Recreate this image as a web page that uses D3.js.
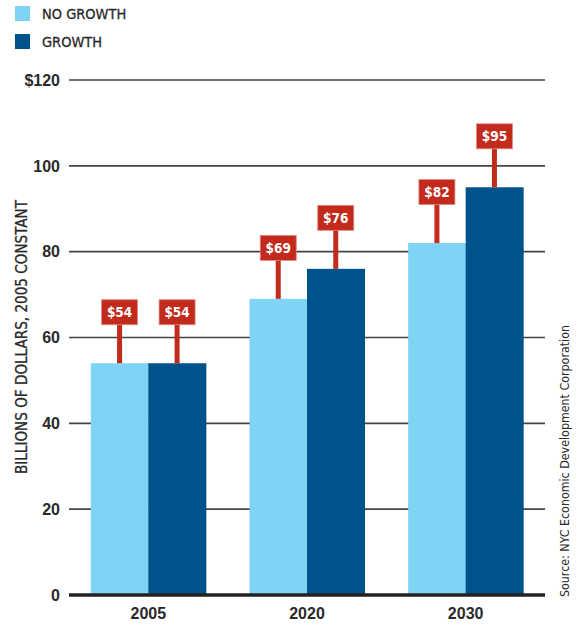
<!DOCTYPE html>
<html><head><meta charset="utf-8">
<script src="https://cdn.jsdelivr.net/npm/d3@7"></script>
<style>body{margin:0;background:#fff}svg{display:block}</style>
</head><body>
<script>
const years = ["2005", "2020", "2030"];
const seriesNames = ["NO GROWTH", "GROWTH"];
const noGrowth = [54, 69, 82];
const growth = [54, 76, 95];
const yTicks = [0, 20, 40, 60, 80, 100, 120];
const colors = ["#7fd3f4", "#00528a"];

const W = 582, H = 625;
const svg = d3.select("body").append("svg").attr("width", W).attr("height", H);
const x0 = d3.scaleBand().domain(years).range([69, 545]).paddingInner(0.275).paddingOuter(0.1375);
const x1 = d3.scaleBand().domain(seriesNames).range([0, x0.bandwidth()]);
const y = d3.scaleLinear().domain([0, 120]).range([595, 80]);
const condensed = "'DejaVu Sans Condensed','DejaVu Sans',sans-serif";
const bold = "'Liberation Sans',Arial,sans-serif";

// gridlines
svg.append("g").selectAll("line").data(yTicks.filter(d => d > 0)).join("line")
  .attr("x1", 69).attr("x2", 545).attr("y1", d => y(d)).attr("y2", d => y(d))
  .attr("stroke", "#444").attr("stroke-width", 1.6);

// y tick labels
svg.append("g").selectAll("text").data(yTicks).join("text")
  .attr("x", 60).attr("y", d => y(d)).attr("dy", "0.36em").attr("text-anchor", "end")
  .attr("font-family", bold).attr("font-weight", "bold")
  .attr("font-size", 16).attr("fill", "#2a2a2a")
  .text(d => d === 120 ? "$" + d : d);

// bars
const data = years.map((yr, i) => ({year: yr, vals: [noGrowth[i], growth[i]]}));
const groups = svg.append("g").selectAll("g").data(data).join("g")
  .attr("transform", d => `translate(${x0(d.year)},0)`);
groups.selectAll("rect").data(d => d.vals.map((v, j) => ({s: seriesNames[j], v, j}))).join("rect")
  .attr("x", d => x1(d.s)).attr("width", x1.bandwidth() + 0.5)
  .attr("y", d => y(d.v)).attr("height", d => y(0) - y(d.v))
  .attr("fill", d => colors[d.j]);

// value labels
const lab = groups.selectAll("g.lab").data(d => d.vals.map((v, j) => ({s: seriesNames[j], v, j}))).join("g")
  .attr("class", "lab")
  .attr("transform", d => `translate(${x1(d.s) + x1.bandwidth() / 2},${y(d.v)})`);
lab.append("rect").attr("x", -2.5).attr("width", 5).attr("y", -40).attr("height", 40).attr("fill", "#c22b1c");
lab.append("rect").attr("x", -18).attr("width", 36).attr("y", -63.5).attr("height", 25)
  .attr("fill", "#c22b1c").attr("stroke", "#e08a82").attr("stroke-width", 0.8);
lab.append("text").attr("y", -51).attr("dy", "0.36em").attr("text-anchor", "middle")
  .attr("font-family", condensed).attr("font-weight", "bold").attr("font-size", 13.5)
  .attr("fill", "#fff").text(d => "$" + d.v);

// zero line
svg.append("line").attr("x1", 69).attr("x2", 545).attr("y1", y(0)).attr("y2", y(0))
  .attr("stroke", "#222").attr("stroke-width", 3.5);

// x labels
svg.append("g").selectAll("text").data(years).join("text")
  .attr("x", d => x0(d) + x0.bandwidth() / 2).attr("y", 619).attr("text-anchor", "middle")
  .attr("font-family", bold).attr("font-weight", "bold")
  .attr("font-size", 16).attr("fill", "#2a2a2a").text(d => d);

// legend
const leg = svg.append("g").selectAll("g").data(seriesNames).join("g")
  .attr("transform", (d, i) => `translate(15,${6 + i * 28})`);
leg.append("rect").attr("width", 15).attr("height", 15).attr("fill", (d, i) => colors[i]);
leg.append("text").attr("x", 27).attr("y", 8).attr("dy", "0.36em")
  .attr("font-family", condensed).attr("font-size", 14.5).attr("fill", "#2a2a2a")
  .attr("stroke", "#2a2a2a").attr("stroke-width", 0.3).text(d => d);

// y axis title
svg.append("text").attr("transform", "translate(27,337) rotate(-90)").attr("text-anchor", "middle")
  .attr("font-family", condensed).attr("font-size", 15).attr("fill", "#2a2a2a")
  .attr("stroke", "#2a2a2a").attr("stroke-width", 0.3)
  .attr("textLength", 274).attr("lengthAdjust", "spacingAndGlyphs")
  .text("BILLIONS OF DOLLARS, 2005 CONSTANT");

// source
svg.append("text").attr("transform", "translate(569,597) rotate(-90)").attr("text-anchor", "start")
  .attr("font-family", condensed).attr("font-size", 12).attr("fill", "#2a2a2a")
  .attr("textLength", 272).attr("lengthAdjust", "spacingAndGlyphs")
  .text("Source: NYC Economic Development Corporation");
</script>
</body></html>
